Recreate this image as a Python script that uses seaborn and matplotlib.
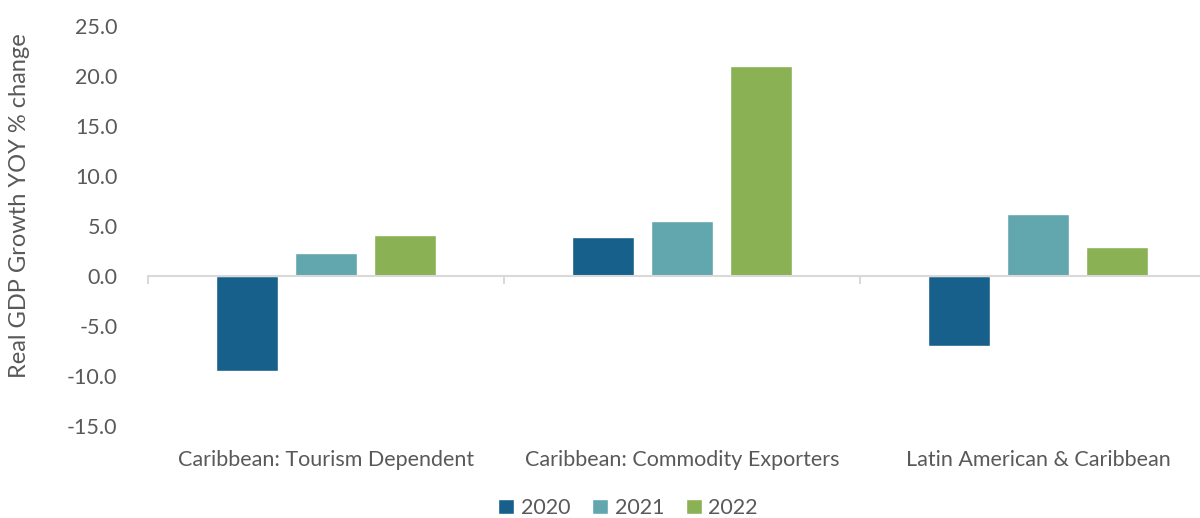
import matplotlib.pyplot as plt
import pandas as pd
import seaborn as sns
from matplotlib.ticker import FixedLocator

# Chart data
categories = [
    "Caribbean: Tourism Dependent",
    "Caribbean: Commodity Exporters",
    "Latin American & Caribbean",
]
years = ["2020", "2021", "2022"]
growth_2020 = [-9.5, 3.9, -7.0]
growth_2021 = [2.3, 5.5, 6.2]
growth_2022 = [4.1, 21.0, 2.9]
y_ticks = [-15, -10, -5, 0, 5, 10, 15, 20, 25]

colors = ["#17608b", "#62a6ae", "#8bb155"]
text_color = "#595959"
line_color = "#d9d9d9"

sns.set_style("white")
plt.rcParams["font.family"] = ["Lato", "DejaVu Sans"]

df = pd.DataFrame(
    {
        "category": categories * 3,
        "year": [y for y in years for _ in categories],
        "growth": growth_2020 + growth_2021 + growth_2022,
    }
)

fig = plt.figure(figsize=(12, 5.18), dpi=100)
ax = fig.add_axes([148 / 1200, 1 - 426 / 518, 1068 / 1200, 400 / 518])

sns.barplot(
    data=df,
    x="category",
    y="growth",
    hue="year",
    hue_order=years,
    order=categories,
    palette=colors,
    width=0.666,
    gap=0.22,
    saturation=1,
    errorbar=None,
    ax=ax,
)

ax.set_ylim(-15, 25)
ax.set_xlim(-0.5, 2.5)
ax.set_yticks(y_ticks)
ax.set_yticklabels([f"{v:.1f}" for v in y_ticks])

for side in ["left", "right", "top"]:
    ax.spines[side].set_visible(False)
ax.spines["bottom"].set_position(("data", 0))
ax.spines["bottom"].set_color(line_color)
ax.spines["bottom"].set_linewidth(1.5)

ax.xaxis.set_minor_locator(FixedLocator([-0.5, 0.5, 1.5, 2.5]))
ax.tick_params(axis="x", which="minor", bottom=True, length=6, width=1.5,
               color=line_color, direction="out")
# category labels sit below the plot, zero line stays at y=0
ax.tick_params(axis="x", which="major", bottom=True, length=0, pad=125,
               labelsize=15.5, labelcolor=text_color)
ax.tick_params(axis="y", length=0, pad=22, labelsize=15.5, labelcolor=text_color)

ax.set_xlabel("")
ax.set_ylabel("Real GDP Growth YOY % change", fontsize=17, color=text_color)
ax.yaxis.set_label_coords(-118 / 1068, 0.55)

handles, labels = ax.get_legend_handles_labels()
ax.legend(
    handles,
    labels,
    loc="center",
    bbox_to_anchor=(628 / 1200, 1 - 508 / 518),
    bbox_transform=fig.transFigure,
    ncol=3,
    frameon=False,
    fontsize=15.5,
    labelcolor=text_color,
    handlelength=0.75,
    handleheight=0.75,
    handletextpad=0.3,
    columnspacing=1.0,
)

fig.savefig("out.png", dpi=100)
